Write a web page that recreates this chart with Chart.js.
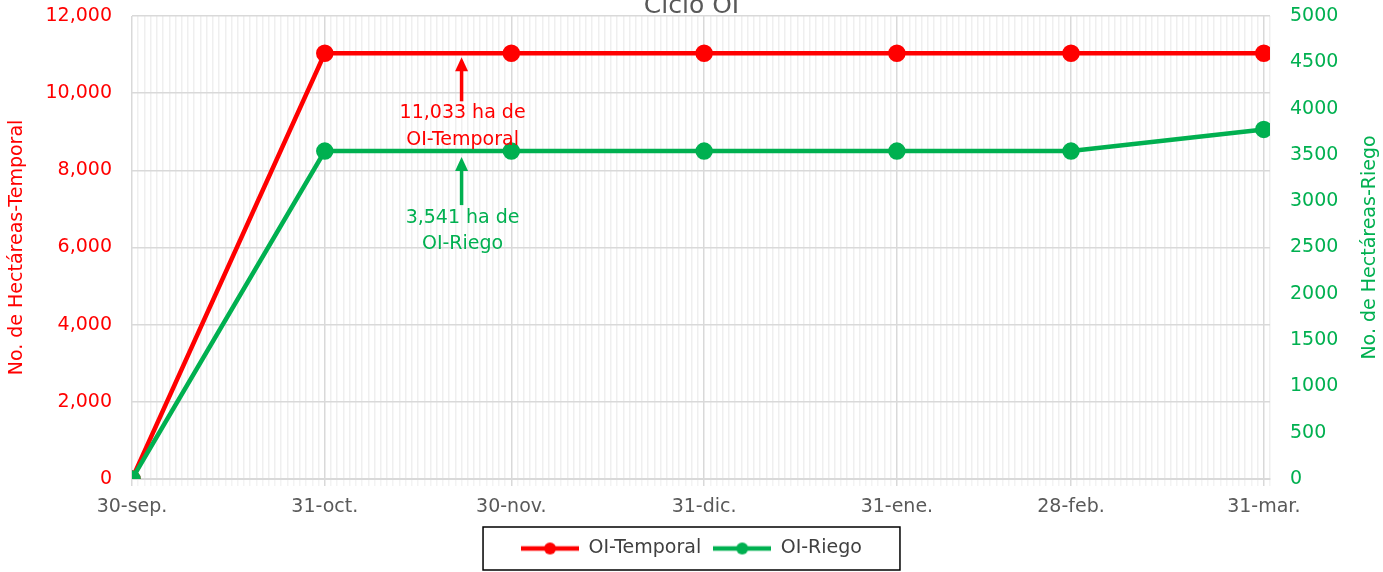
<!DOCTYPE html>
<html>
<head>
<meta charset="utf-8">
<script src="https://cdn.jsdelivr.net/npm/chart.js@4.4.1/dist/chart.umd.min.js"></script>
<style>
  html, body { margin: 0; padding: 0; background: #fff; }
  #wrap { width: 1383px; height: 572px; }
</style>
</head>
<body>
<div id="wrap"><canvas id="chart"></canvas></div>
<script>
// data
const categories = ["30-sep.", "31-oct.", "30-nov.", "31-dic.", "31-ene.", "28-feb.", "31-mar."];
const dayOffsets = [0, 31, 61, 92, 123, 151, 182];   // days after 30-sep
const temporal = [0, 11033, 11033, 11033, 11033, 11033, 11033];
const riego = [0, 3541, 3541, 3541, 3541, 3541, 3775];

const chartTitle = "Ciclo OI";
const leftTitle = "No. de Hectáreas-Temporal";
const rightTitle = "No. de Hectáreas-Riego";
const noteTemporal = ["11,033 ha de", "OI-Temporal"];
const noteRiego = ["3,541 ha de", "OI-Riego"];
const noteDay = 53;

const RED = "#ff0000";
const GREEN = "#00b050";
const GREY = "#595959";
const FONT = "'DejaVu Sans', sans-serif";

function legendIcon(color) {
    const c = document.createElement("canvas");
    c.width = 58;
    c.height = 14;
    const g = c.getContext("2d");
    g.strokeStyle = color;
    g.lineWidth = 4.5;
    g.beginPath();
    g.moveTo(0, 7);
    g.lineTo(58, 7);
    g.stroke();
    g.fillStyle = color;
    g.beginPath();
    g.arc(29, 7, 6, 0, Math.PI * 2);
    g.fill();
    return c;
}

function arrow(ctx, x, yTip, yTail, color) {
    ctx.strokeStyle = color;
    ctx.fillStyle = color;
    ctx.lineWidth = 3.5;
    ctx.beginPath();
    ctx.moveTo(x, yTail);
    ctx.lineTo(x, yTip + 10);
    ctx.stroke();
    ctx.beginPath();
    ctx.moveTo(x, yTip);
    ctx.lineTo(x - 6.5, yTip + 14);
    ctx.lineTo(x + 6.5, yTip + 14);
    ctx.closePath();
    ctx.fill();
}

const extras = {
    id: "extras",
    afterDraw(chart) {
        const ctx = chart.ctx;
        const x = chart.scales.x;
        const yL = chart.scales.yL;
        const yR = chart.scales.yR;
        const area = chart.chartArea;
        ctx.save();

        // title (clipped at the top like the original)
        ctx.font = "25px " + FONT;
        ctx.fillStyle = GREY;
        ctx.textAlign = "center";
        ctx.textBaseline = "alphabetic";
        ctx.fillText(chartTitle, chart.width / 2, 13);

        // right axis title, reading bottom to top
        ctx.save();
        ctx.translate(1370, (area.top + area.bottom) / 2);
        ctx.rotate(-Math.PI / 2);
        ctx.font = "19px " + FONT;
        ctx.fillStyle = GREEN;
        ctx.textBaseline = "middle";
        ctx.fillText(rightTitle, 0, 0);
        ctx.restore();

        // notes with arrows
        const ax = x.getPixelForValue(noteDay);
        const tipT = yL.getPixelForValue(temporal[1]) + 4;
        const tipR = yR.getPixelForValue(riego[1]) + 6;
        arrow(ctx, ax, tipT, tipT + 44, RED);
        arrow(ctx, ax, tipR, tipR + 48, GREEN);
        ctx.font = "19px " + FONT;
        ctx.textBaseline = "middle";
        ctx.fillStyle = RED;
        noteTemporal.forEach((t, i) => ctx.fillText(t, ax + 1, tipT + 56 + i * 27));
        ctx.fillStyle = GREEN;
        noteRiego.forEach((t, i) => ctx.fillText(t, ax + 1, tipR + 61 + i * 26));

        // legend frame
        const boxes = chart.legend.legendHitBoxes;
        if (boxes && boxes.length) {
            const l = Math.min(...boxes.map(b => b.left)) - 38;
            const r = Math.max(...boxes.map(b => b.left + b.width)) + 38;
            const t = Math.min(...boxes.map(b => b.top));
            const b2 = Math.max(...boxes.map(b => b.top + b.height));
            const cy = (t + b2) / 2;
            ctx.strokeStyle = "#000";
            ctx.lineWidth = 1.5;
            ctx.strokeRect(l, cy - 21.5, r - l, 43);
        }
        ctx.restore();
    }
};

function fixVertical(width) {
    return scale => {
        scale.width = width;
        scale.paddingTop = 16;
        scale.paddingBottom = 0;
    };
}

new Chart(document.getElementById("chart"), {
    type: "line",
    data: {
        datasets: [
            {
                label: "OI-Temporal",
                data: dayOffsets.map((d, i) => ({ x: d, y: temporal[i] })),
                yAxisID: "yL",
                borderColor: RED,
                backgroundColor: RED,
                pointBackgroundColor: RED,
                borderWidth: 4.5,
                pointRadius: 6.5,
                order: 1
            },
            {
                label: "OI-Riego",
                data: dayOffsets.map((d, i) => ({ x: d, y: riego[i] })),
                yAxisID: "yR",
                borderColor: GREEN,
                backgroundColor: GREEN,
                pointBackgroundColor: GREEN,
                borderWidth: 4.5,
                pointRadius: 6.5,
                order: 0
            }
        ]
    },
    options: {
        responsive: true,
        maintainAspectRatio: false,
        animation: false,
        layout: { padding: { top: 0, left: 0, right: 0, bottom: 4 } },
        elements: { point: { pointStyle: "circle" }, line: { tension: 0 } },
        plugins: {
            title: { display: false },
            tooltip: { enabled: false },
            legend: {
                position: "bottom",
                labels: {
                    font: { family: FONT, size: 19 },
                    color: "#404040",
                    usePointStyle: true,
                    pointStyleWidth: 58,
                    padding: 12,
                    sort: (a, b) => a.datasetIndex - b.datasetIndex,
                    generateLabels(chart) {
                        return chart.data.datasets.map((ds, i) => ({
                            text: ds.label,
                            datasetIndex: i,
                            pointStyle: legendIcon(ds.borderColor),
                            fillStyle: ds.borderColor,
                            strokeStyle: ds.borderColor,
                            lineWidth: 0,
                            fontColor: "#404040"
                        }));
                    }
                }
            }
        },
        scales: {
            x: {
                type: "linear",
                min: 0,
                max: 183,
                afterBuildTicks(scale) {
                    const t = [];
                    for (let d = 0; d <= 183; d++) t.push({ value: d });
                    scale.ticks = t;
                },
                afterFit(scale) { scale.height = 48; },
                ticks: {
                    autoSkip: false,
                    maxRotation: 0,
                    padding: 10,
                    color: GREY,
                    font: { family: FONT, size: 19 },
                    callback: v => {
                        const i = dayOffsets.indexOf(v);
                        return i >= 0 ? categories[i] : "";
                    }
                },
                grid: {
                    color: c => (c.tick && dayOffsets.includes(c.tick.value)) ? "#d9d9d9" : "#efefef",
                    tickColor: c => (c.tick && dayOffsets.includes(c.tick.value)) ? "#d9d9d9" : "#f3f3f3",
                    tickLength: 7,
                    lineWidth: 1.5
                },
                border: { color: "#d9d9d9", width: 2 }
            },
            yL: {
                position: "left",
                min: 0,
                max: 12000,
                afterFit: fixVertical(132),
                ticks: {
                    stepSize: 2000,
                    padding: 20,
                    color: RED,
                    font: { family: FONT, size: 19 },
                    callback: v => v.toLocaleString("en-US")
                },
                title: {
                    display: true,
                    text: leftTitle,
                    color: RED,
                    font: { family: FONT, size: 19 },
                    padding: { top: 6, bottom: 0 }
                },
                grid: { color: "#d9d9d9", lineWidth: 1.5, drawTicks: false },
                border: { display: false }
            },
            yR: {
                position: "right",
                min: 0,
                max: 5000,
                afterFit: fixVertical(113),
                ticks: {
                    stepSize: 500,
                    padding: 20,
                    color: GREEN,
                    font: { family: FONT, size: 19 },
                    callback: v => String(v)
                },
                grid: { drawOnChartArea: false, drawTicks: false },
                border: { display: false }
            }
        }
    },
    plugins: [extras]
});
</script>
</body>
</html>
